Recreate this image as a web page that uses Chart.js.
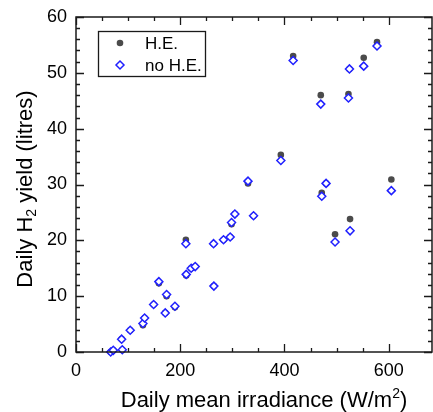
<!DOCTYPE html>
<html>
<head>
<meta charset="utf-8">
<script src="https://cdn.jsdelivr.net/npm/chart.js@4.4.0/dist/chart.umd.min.js"></script>
<style>
  html, body { margin: 0; padding: 0; background: #fff; }
  #wrap { width: 433px; height: 412px; }
</style>
</head>
<body>
<div id="wrap"><canvas id="chart" width="433" height="412"></canvas></div>
<script>
// daily mean irradiance (W/m2), one entry per day
const irradiance = [66.5, 71.5, 87.5, 88.8, 104, 128.4, 131.6, 148.9, 159, 171.2, 173.8, 189.8,
  210.8, 211.5, 221, 228.7, 263.9, 264.5, 283, 295.8, 298.4, 304.8, 330, 340.6,
  393, 416.6, 469.6, 471.5, 479.8, 497, 522.7, 524.6, 525.8, 552, 577.5, 605];
// H2 yield with heat exchanger (litres)
const yieldHE = [0, 0.3, 2.3, 0.4, 3.9, 4.8, 6.1, 8.5, 12.3, 7.0, 10.0, 8.0,
  20.1, 13.7, 15.0, 15.3, 19.4, 11.8, 20.1, 20.6, 22.9, 24.7, 30.2, 24.4,
  35.3, 53.0, 46.0, 28.5, 30.2, 21.1, 46.2, 50.7, 23.8, 52.7, 55.5, 30.9];
// H2 yield without heat exchanger (litres)
const yieldNoHE = [0, 0.3, 2.3, 0.4, 3.9, 5.1, 6.1, 8.5, 12.6, 7.0, 10.3, 8.2,
  19.4, 13.9, 15.0, 15.3, 19.4, 11.8, 20.1, 20.6, 23.2, 24.7, 30.6, 24.4,
  34.3, 52.2, 44.4, 27.9, 30.2, 19.7, 45.5, 50.7, 21.7, 51.2, 54.8, 28.9];

const seriesNames = ["H.E.", "no H.E."];
const xTickLabels = [0, 200, 400, 600];
const yTickLabels = [0, 10, 20, 30, 40, 50, 60];

const FONT = "Liberation Sans, Arial, sans-serif";
const AXIS = "#1a1a1a";

const toPoints = ys => irradiance.map((x, i) => ({ x, y: ys[i] }));

// no extra room for the end labels, the plot box is fixed
function noPad(s) {
  s.paddingLeft = 0; s.paddingRight = 0; s.paddingTop = 0; s.paddingBottom = 0;
}

// frame on all four sides with inward ticks
const framePlugin = {
  id: "frame",
  afterDraw(chart) {
    const { ctx, chartArea: a, scales } = chart;
    ctx.save();
    ctx.strokeStyle = AXIS;
    ctx.lineWidth = 1.5;
    ctx.strokeRect(a.left, a.top, a.right - a.left, a.bottom - a.top);
    ctx.lineWidth = 1.3;
    ctx.beginPath();
    scales.x.ticks.forEach(t => {
      const px = Math.round(scales.x.getPixelForValue(t.value)) + 0.5;
      const len = xTickLabels.includes(t.value) ? 8 : 4;
      ctx.moveTo(px, a.bottom); ctx.lineTo(px, a.bottom - len);
      ctx.moveTo(px, a.top); ctx.lineTo(px, a.top + len);
    });
    scales.y.ticks.forEach(t => {
      const py = Math.round(scales.y.getPixelForValue(t.value)) + 0.5;
      const len = yTickLabels.includes(t.value) ? 8 : 4;
      ctx.moveTo(a.left, py); ctx.lineTo(a.left + len, py);
      ctx.moveTo(a.right, py); ctx.lineTo(a.right - len, py);
    });
    ctx.stroke();
    ctx.restore();
  }
};

// axis titles with real sub/superscripts
const titlePlugin = {
  id: "axisTitles",
  afterDraw(chart) {
    const { ctx } = chart;
    const big = "22px " + FONT, small = "14px " + FONT;
    const width = list => list.reduce((w, p) => { ctx.font = p.f; return w + ctx.measureText(p.t).width; }, 0);
    const run = (list, x0) => {
      let x = x0;
      list.forEach(p => { ctx.font = p.f; ctx.fillText(p.t, x, p.dy); x += ctx.measureText(p.t).width; });
    };

    const xt = [
      { t: "Daily mean irradiance (W/m", f: big, dy: 0 },
      { t: "2", f: small, dy: -9 },
      { t: ")", f: big, dy: 0 }
    ];
    ctx.save();
    ctx.fillStyle = "#000";
    ctx.translate(264, 407);
    run(xt, -width(xt) / 2);
    ctx.restore();

    const yt = [
      { t: "Daily H", f: big, dy: 0 },
      { t: "2", f: small, dy: 4 },
      { t: " yield (litres)", f: big, dy: 0 }
    ];
    ctx.save();
    ctx.fillStyle = "#000";
    ctx.translate(32, 189);
    ctx.rotate(-Math.PI / 2);
    run(yt, -width(yt) / 2);
    ctx.restore();
  }
};

// legend box inside the plot, top left
const legendPlugin = {
  id: "boxLegend",
  afterDraw(chart) {
    const { ctx } = chart;
    const x0 = 98, y0 = 31, w = 107, h = 45;
    ctx.save();
    ctx.fillStyle = "#fff";
    ctx.fillRect(x0, y0, w, h);
    ctx.strokeStyle = AXIS;
    ctx.lineWidth = 1.3;
    ctx.strokeRect(x0 + 0.5, y0 + 0.5, w, h);
    ctx.font = "17px " + FONT;
    ctx.textBaseline = "middle";
    chart.data.datasets.forEach((ds, i) => {
      const cy = y0 + 12 + i * 22;
      ctx.fillStyle = ds.backgroundColor;
      ctx.strokeStyle = ds.borderColor;
      ctx.lineWidth = ds.borderWidth;
      ctx.beginPath();
      if (ds.pointStyle === "circle") {
        ctx.arc(120, cy, ds.pointRadius, 0, Math.PI * 2);
        ctx.fill();
      } else {
        const r = ds.pointRadius;
        ctx.moveTo(120, cy - r); ctx.lineTo(120 + r, cy);
        ctx.lineTo(120, cy + r); ctx.lineTo(120 - r, cy); ctx.closePath();
        ctx.fill(); ctx.stroke();
      }
      ctx.fillStyle = "#000";
      ctx.fillText(seriesNames[i], 145, cy + 1);
    });
    ctx.restore();
  }
};

new Chart(document.getElementById("chart"), {
  type: "scatter",
  data: {
    datasets: [
      {
        label: seriesNames[0],
        data: toPoints(yieldHE),
        pointStyle: "circle",
        pointRadius: 3.3,
        pointHoverRadius: 3.3,
        backgroundColor: "#4b4b4b",
        borderColor: "#4b4b4b",
        borderWidth: 0,
        order: 2,
        clip: false
      },
      {
        label: seriesNames[1],
        data: toPoints(yieldNoHE),
        pointStyle: "rectRot",
        pointRadius: 4,
        pointHoverRadius: 4,
        backgroundColor: "#fff",
        borderColor: "#2020ff",
        borderWidth: 1.5,
        order: 1,
        clip: false
      }
    ]
  },
  options: {
    responsive: false,
    animation: false,
    events: [],
    layout: { autoPadding: false, padding: { top: 17, right: 1, left: 0, bottom: 0 } },
    plugins: {
      legend: { display: false },
      tooltip: { enabled: false }
    },
    scales: {
      x: {
        type: "linear",
        min: 0,
        max: 683,
        afterBuildTicks: s => { s.ticks = s.ticks.filter(t => t.value % 50 === 0); },
        afterFit: s => { s.height = 60; noPad(s); },
        grid: { display: false, drawTicks: false },
        border: { display: false },
        ticks: {
          stepSize: 50,
          autoSkip: false,
          maxRotation: 0,
          padding: 8,
          color: "#000",
          font: { family: FONT, size: 18 },
          callback: v => (xTickLabels.includes(v) ? String(v) : "")
        }
      },
      y: {
        type: "linear",
        min: 0,
        max: 60,
        afterFit: s => { s.width = 76; noPad(s); },
        grid: { display: false, drawTicks: false },
        border: { display: false },
        ticks: {
          stepSize: 2,
          autoSkip: false,
          padding: 9,
          color: "#000",
          font: { family: FONT, size: 18 },
          callback: v => (yTickLabels.includes(v) ? String(v) : "")
        }
      }
    }
  },
  plugins: [framePlugin, titlePlugin, legendPlugin]
});
</script>
</body>
</html>
